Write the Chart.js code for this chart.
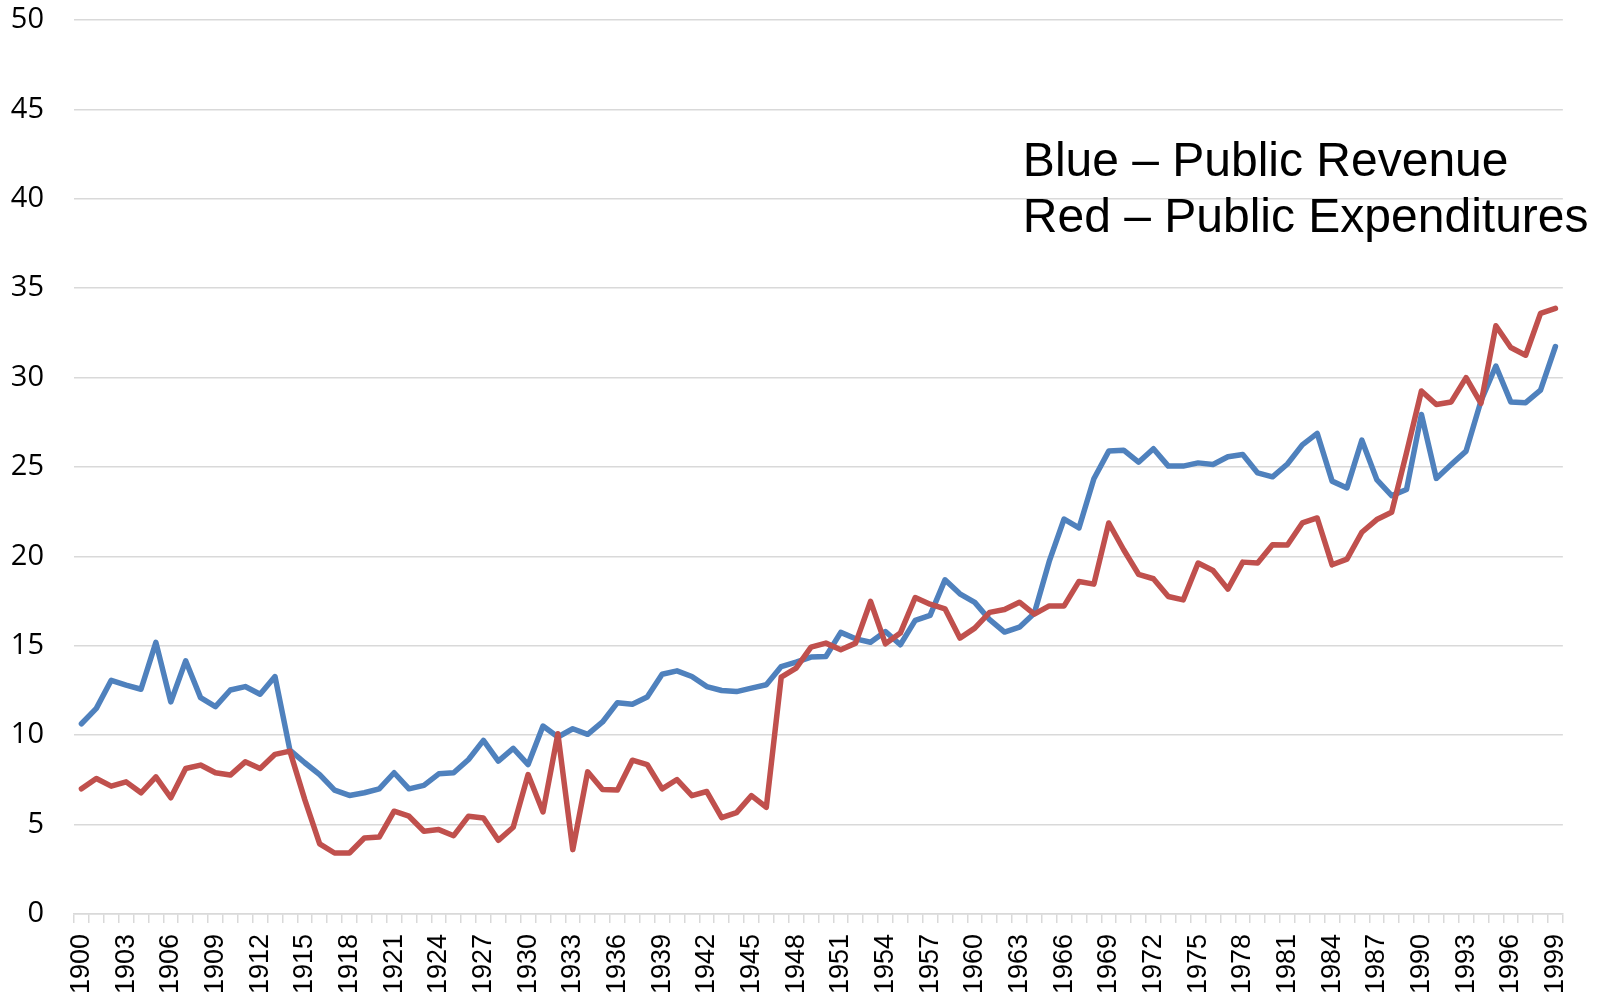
<!DOCTYPE html>
<html>
<head>
<meta charset="utf-8">
<title>Public Revenue and Expenditures 1900-1999</title>
<script src="https://cdn.jsdelivr.net/npm/chart.js@4/dist/chart.umd.min.js"></script>
<style>
  html, body { margin: 0; padding: 0; background: #fff; }
  #wrap { width: 1599px; height: 1000px; }
</style>
</head>
<body>
<div id="wrap"><canvas id="chart" width="1599" height="1000"></canvas></div>
<script>
// Yearly categories shown on the x axis
const years = [
  '1900','1901','1902','1903','1904','1905','1906','1907','1908','1909',
  '1910','1911','1912','1913','1914','1915','1916','1917','1918','1919',
  '1920','1921','1922','1923','1924','1925','1926','1927','1928','1929',
  '1930','1931','1932','1933','1934','1935','1936','1937','1938','1939',
  '1940','1941','1942','1943','1944','1945','1946','1947','1948','1949',
  '1950','1951','1952','1953','1954','1955','1956','1957','1958','1959',
  '1960','1961','1962','1963','1964','1965','1966','1967','1968','1969',
  '1970','1971','1972','1973','1974','1975','1976','1977','1978','1979',
  '1980','1981','1982','1983','1984','1985','1986','1987','1988','1989',
  '1990','1991','1992','1993','1994','1995','1996','1997','1998','1999'
];

// Blue line - public revenue
const revenue = [
  10.64, 11.5, 13.07, 12.8, 12.57, 15.19, 11.86, 14.16, 12.1, 11.6,
  12.53, 12.72, 12.29, 13.28, 9.17, 8.46, 7.8, 6.93, 6.63, 6.78,
  7.0, 7.9, 7.0, 7.19, 7.84, 7.9, 8.64, 9.71, 8.55, 9.26,
  8.36, 10.51, 9.9, 10.36, 10.05, 10.74, 11.82, 11.73, 12.14, 13.41,
  13.6, 13.28, 12.72, 12.5, 12.44, 12.63, 12.82, 13.84, 14.09, 14.37,
  14.4, 15.75, 15.39, 15.2, 15.8, 15.06, 16.42, 16.7, 18.69, 17.91,
  17.43, 16.46, 15.77, 16.04, 16.82, 19.72, 22.09, 21.59, 24.34, 25.89,
  25.94, 25.27, 26.02, 25.05, 25.05, 25.23, 25.14, 25.57, 25.7, 24.67,
  24.45, 25.17, 26.24, 26.88, 24.21, 23.83, 26.5, 24.3, 23.4, 23.74,
  27.94, 24.36, 25.14, 25.89, 28.69, 30.65, 28.64, 28.6, 29.3, 31.74
];

// Red line - public expenditures
const expenditures = [
  7.0, 7.58, 7.15, 7.39, 6.78, 7.67, 6.5, 8.14, 8.33, 7.9,
  7.77, 8.51, 8.14, 8.93, 9.11, 6.4, 3.92, 3.41, 3.41, 4.25,
  4.3, 5.75, 5.47, 4.63, 4.72, 4.38, 5.47, 5.37, 4.12, 4.85,
  7.8, 5.71, 10.08, 3.6, 7.95, 6.96, 6.93, 8.6, 8.36, 7.0,
  7.52, 6.62, 6.85, 5.39, 5.67, 6.62, 5.97, 13.25, 13.75, 14.93,
  15.15, 14.78, 15.15, 17.48, 15.11, 15.71, 17.7, 17.33, 17.07, 15.43,
  15.99, 16.87, 17.03, 17.44, 16.77, 17.23, 17.23, 18.6, 18.45, 21.87,
  20.37, 19.0, 18.75, 17.76, 17.57, 19.63, 19.21, 18.17, 19.68, 19.63,
  20.65, 20.64, 21.87, 22.15, 19.53, 19.85, 21.35, 22.06, 22.47, 25.8,
  29.25, 28.5, 28.64, 30.0, 28.56, 32.9, 31.68, 31.25, 33.59, 33.87
];

const noteLines = ['Blue \u2013 Public Revenue', 'Red \u2013 Public Expenditures'];

// text box in the upper right of the plot
const notePlugin = {
  id: 'note',
  afterDraw(chart) {
    const ctx = chart.ctx;
    const area = chart.chartArea;
    ctx.save();
    ctx.fillStyle = '#000';
    ctx.font = '48px "Liberation Sans", Arial, sans-serif';
    ctx.textAlign = 'left';
    ctx.textBaseline = 'alphabetic';
    noteLines.forEach((line, i) => {
      ctx.fillText(line, area.right - 540, area.top + 156 + i * 56);
    });
    ctx.restore();
  }
};

const ctx = document.getElementById('chart').getContext('2d');
new Chart(ctx, {
  type: 'line',
  data: {
    labels: years,
    datasets: [
      {
        label: 'Public Revenue',
        data: revenue,
        borderColor: '#4f81bd',
        borderWidth: 5.5,
        pointRadius: 0,
        tension: 0,
        borderJoinStyle: 'round',
        borderCapStyle: 'round',
        order: 2
      },
      {
        label: 'Public Expenditures',
        data: expenditures,
        borderColor: '#c0504d',
        borderWidth: 5.5,
        pointRadius: 0,
        tension: 0,
        borderJoinStyle: 'round',
        borderCapStyle: 'round',
        order: 1
      }
    ]
  },
  options: {
    responsive: false,
    animation: false,
    layout: { padding: { top: 20, right: 36, left: 0, bottom: 0 } },
    plugins: {
      legend: { display: false },
      tooltip: { enabled: false },
      title: { display: false }
    },
    scales: {
      x: {
        type: 'category',
        offset: true,
        afterFit: (scale) => { scale.height = 86; },
        grid: {
          offset: true,
          drawOnChartArea: false,
          drawTicks: true,
          tickLength: 9,
          color: '#d9d9d9',
          lineWidth: 1.5
        },
        border: { display: true, color: '#d9d9d9', width: 1.5 },
        ticks: {
          autoSkip: false,
          maxRotation: 90,
          minRotation: 90,
          padding: 11,
          color: '#000',
          font: { family: '"Liberation Sans", Arial, sans-serif', size: 27 },
          callback: (val, idx) => (idx % 3 === 0 ? years[idx] : '')
        }
      },
      y: {
        min: 0,
        max: 50,
        afterFit: (scale) => {
          scale.width = 74;
          scale.paddingTop = 0;
        },
        grid: { color: '#d9d9d9', lineWidth: 1.5, drawTicks: false },
        border: { display: false },
        ticks: {
          stepSize: 5,
          padding: 30,
          color: '#000',
          font: { family: '"Open Sans", "Noto Sans", sans-serif', size: 29 }
        }
      }
    }
  },
  plugins: [notePlugin]
});
</script>
</body>
</html>
